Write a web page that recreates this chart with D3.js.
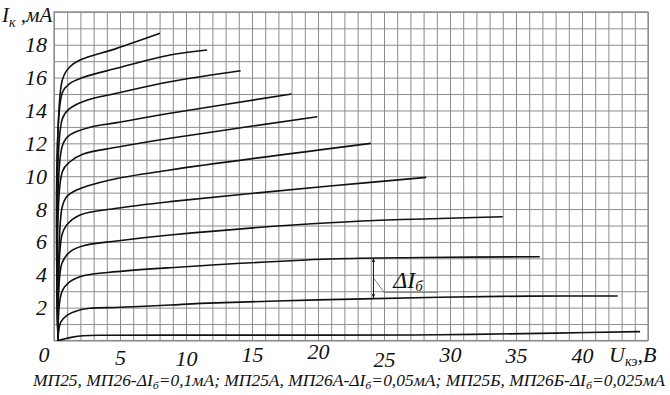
<!DOCTYPE html>
<html><head><meta charset="utf-8">
<script src="https://cdn.jsdelivr.net/npm/d3@7"></script>
<style>
body{margin:0;background:#fff}
svg{display:block;background:#fff}
</style>
</head><body>
<svg id="c" width="670" height="395"></svg>
<script>
// ---- data (U_кэ in V, I_к in mA) ----
const xTicks = [0, 5, 10, 15, 20, 25, 30, 35, 40];
const yTicks = [2, 4, 6, 8, 10, 12, 14, 16, 18];
const xLabelDy = [0, 3, 4, 0, -3, 5, 0, 1, 1];

const curve0 = [[0.3,0],[0.8,0.1],[1.3,0.19],[2.2,0.29],[4,0.32],[8.8,0.33],[20,0.33],[29.2,0.35],[38,0.45],[44.4,0.54]];
const curve1 = [[0.3,0],[0.5,1.1],[1,1.55],[1.7,1.8],[2.7,1.96],[5,2.02],[8.8,2.16],[11.1,2.26],[20,2.47],[29.2,2.63],[36,2.7],[42.7,2.71]];
const curve2 = [[0.3,0],[0.6,2.97],[1.21,3.58],[2.22,3.94],[4.75,4.19],[8.79,4.43],[20.9,4.96],[28,5.05],[36.8,5.1]];
const curve3 = [[0.3,0],[0.6,4.7],[1.21,5.4],[2.22,5.77],[4.75,6.06],[8.79,6.42],[20.9,7.17],[34.0,7.53]];
const curve4 = [[0.3,0],[0.6,6.42],[0.96,7.03],[1.97,7.64],[4.75,8.05],[8.79,8.45],[20.9,9.4],[28.2,9.93]];
const curve5 = [[0.3,0],[0.6,8.05],[0.96,8.75],[1.72,9.16],[4.24,9.77],[8.79,10.38],[24.0,12.0]];
const curve6 = [[0.3,0],[0.63,10.27],[1.21,10.88],[2.22,11.35],[4.75,11.76],[8.79,12.31],[19.95,13.62]];
const curve7 = [[0.3,0],[0.63,11.84],[1.21,12.51],[2.73,12.98],[4.75,13.26],[8.79,13.83],[18.0,15.0]];
const curve8 = [[0.3,0],[0.63,13.48],[1.21,14.13],[2.48,14.63],[4.75,15.05],[8.79,15.75],[14.14,16.42]];
const curve9 = [[0.3,0],[0.63,15.08],[1.21,15.65],[2.22,16.02],[4.75,16.57],[8.79,17.38],[11.6,17.68]];
const curve10 = [[0.3,0],[0.63,15.85],[1.21,16.66],[1.97,17.07],[4.75,17.78],[8.03,18.7]];
const curves = [curve0, curve1, curve2, curve3, curve4, curve5, curve6, curve7, curve8, curve9, curve10];

// ΔIб annotation (data coordinates)
const arrowU = 24.2;
const arrowI = [5.02, 2.57];
const leader = [[24.24, 3.78], [25.0, 2.93], [29.1, 2.93]];
const annotAt = [25.7, 3.2];

// ---- layout ----
const FONT = "'Liberation Serif', 'Times New Roman', 'DejaVu Serif', serif";
const svg = d3.select('#c');
const x = d3.scaleLinear().domain([0, 45]).range([54, 648]);
const y = d3.scaleLinear().domain([0, 20]).range([340.5, 11.9]);

function styleText(sel, size) {
  sel.attr('font-family', FONT).attr('font-style', 'italic').attr('font-size', size)
     .style('font-family', FONT).style('font-style', 'italic').style('font-size', size + 'px')
     .attr('fill', '#111');
  return sel;
}

// grid
const gridCol = '#8c8c8c';
const gx = svg.append('g').attr('transform', `translate(0,${y(0)})`)
  .call(d3.axisBottom(x).ticks(45).tickSize(-(y(0) - y(20))).tickFormat(''));
gx.select('.domain').remove();
gx.selectAll('line').attr('stroke', gridCol).attr('stroke-width', 1);
const gy = svg.append('g').attr('transform', `translate(${x(0)},0)`)
  .call(d3.axisLeft(y).ticks(20).tickSize(-(x(45) - x(0))).tickFormat(''));
gy.select('.domain').remove();
gy.selectAll('line').attr('stroke', gridCol).attr('stroke-width', 1);
svg.append('rect').attr('x', x(0)).attr('y', y(20)).attr('width', x(45) - x(0)).attr('height', y(0) - y(20))
  .attr('fill', 'none').attr('stroke', gridCol).attr('stroke-width', 1.2);

// tick labels
const ly = svg.append('g').attr('transform', `translate(${x(0)},0)`)
  .call(d3.axisLeft(y).tickValues(yTicks).tickSize(0).tickPadding(7).tickFormat(d3.format('d')));
ly.select('.domain').remove();
ly.attr('font-family', FONT);
styleText(ly.selectAll('text'), 22);

const lx = svg.append('g').attr('transform', `translate(0,${y(0)})`)
  .call(d3.axisBottom(x).tickValues(xTicks).tickSize(0).tickPadding(6).tickFormat(d3.format('d')));
lx.select('.domain').remove();
lx.attr('font-family', FONT);
styleText(lx.selectAll('text'), 22).attr('y', (d, i) => 6 + xLabelDy[i]);
lx.selectAll('.tick').filter(d => d === 0).attr('transform', `translate(${x(0) - 10},0)`);

// curves
const line = d3.line().x(d => x(d[0])).y(d => y(d[1])).curve(d3.curveCatmullRom.alpha(0.5));
svg.append('g').selectAll('path').data(curves).join('path')
  .attr('d', line).attr('fill', 'none').attr('stroke', '#111').attr('stroke-width', 1.6)
  .attr('stroke-linejoin', 'round');

// annotation arrow
const defs = svg.append('defs');
defs.append('marker').attr('id', 'ah').attr('viewBox', '0 0 10 10').attr('refX', 10).attr('refY', 5)
  .attr('markerWidth', 4).attr('markerHeight', 7).attr('orient', 'auto-start-reverse')
  .attr('markerUnits', 'userSpaceOnUse')
  .append('path').attr('d', 'M0,1 L10,5 L0,9 Z').attr('fill', '#111');
svg.append('line').attr('x1', x(arrowU)).attr('x2', x(arrowU))
  .attr('y1', y(arrowI[0])).attr('y2', y(arrowI[1]))
  .attr('stroke', '#111').attr('stroke-width', 1)
  .attr('marker-start', 'url(#ah)').attr('marker-end', 'url(#ah)');
svg.append('path').attr('d', d3.line().x(d => x(d[0])).y(d => y(d[1]))(leader))
  .attr('fill', 'none').attr('stroke', '#666').attr('stroke-width', 0.8);
const at = styleText(svg.append('text').attr('x', x(annotAt[0])).attr('y', y(annotAt[1])), 24);
at.append('tspan').text('ΔI');
at.append('tspan').attr('dy', 3).style('font-size', '15px').text('б');

// axis titles
const ty = styleText(svg.append('text').attr('x', 2).attr('y', 22), 21);
ty.append('tspan').text('I');
ty.append('tspan').attr('dy', 5).style('font-size', '14px').text('к');
ty.append('tspan').attr('dy', -5).text(' ,мА');

const tx = styleText(svg.append('text').attr('x', 609).attr('y', 362), 22);
tx.append('tspan').text('U');
tx.append('tspan').attr('dy', 4).style('font-size', '14px').text('кэ');
tx.append('tspan').attr('dy', -4).text(',В');

// caption
const cap = styleText(svg.append('text').attr('x', 0).attr('y', 0), 16);
const parts = ['МП25, МП26-ΔI', 'б', '=0,1мА; МП25А, МП26А-ΔI', 'б', '=0,05мА; МП25Б, МП26Б-ΔI', 'б', '=0,025мА'];
parts.forEach((p, i) => {
  const t = cap.append('tspan').text(p);
  if (i % 2 === 1) t.attr('dy', 3).style('font-size', '11px');
  else if (i > 0) t.attr('dy', -3);
});
const w = cap.node().getComputedTextLength();
cap.attr('transform', `translate(33,386) scale(${632 / w},1)`);
</script>
</body></html>
